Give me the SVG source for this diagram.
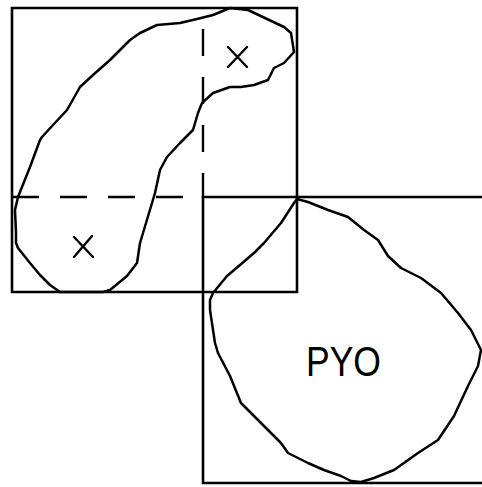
<svg xmlns="http://www.w3.org/2000/svg" width="482" height="487" viewBox="0 0 482 487">
<style>
.ln{fill:none;stroke:#000;stroke-width:2.6;stroke-linejoin:miter;stroke-linecap:square}
.dash{fill:none;stroke:#000;stroke-width:2.4;stroke-dasharray:27 21}
.bl{fill:none;stroke:#000;stroke-width:2.5;stroke-linejoin:round;stroke-linecap:round}
.x{fill:none;stroke:#000;stroke-width:2.4;stroke-linecap:round}
.t{font-family:"Liberation Sans",Arial,sans-serif;font-size:42px;fill:#000}
</style>
<rect width="482" height="487" fill="#fff"/>
<g id="square1">
<polyline class="ln" points="203,8 12,8 12,292 297,292 297,8 203,8"/>
</g>
<g id="square2">
<polyline class="ln" points="482,197 203,197 203,483 482,483"/>
</g>
<g id="dividers">
<line class="dash" x1="12" y1="197" x2="203" y2="197"/>
<line class="dash" x1="203" y1="29" x2="203" y2="197"/>
</g>
<g id="blob1">
<polyline class="bl" points="230,8 248,10 284,27 291,33 294,52 284,63 274,68 268,80 254,85 241,87 230,87 213,93 202,103 198,113 193,130 180,143 167,157 160,170 155,193 152,203 143,233 140,243 137,263 127,276 110,290 103,292 60,292 50,285 40,275 30,263 18,248 16,243 16,233 15,210 18,197 22,187 30,167 40,140 42,137 53,125 67,110 80,87 93,75 110,60 130,40 140,33 157,25 180,23 197,19 213,15 230,8"/>
</g>
<g id="blob2">
<polyline class="bl" points="297,199 308,202 328,210 348,217 364,230 378,240 388,256 401,268 421,278 441,293 458,313 471,330 481,350 478,366 468,386 454,416 438,440 418,453 394,470 374,478 361,482 351,481 341,476 324,470 308,463 288,453 281,443 268,430 241,403 230,376 218,353 215,343 210,310 210,300 213,293 227,276 240,265 254,253 264,243 281,223 294,203 297,199"/>
</g>
<g id="marks">
<path class="x" d="M228,47 L247,67 M247,47 L228,67"/>
<path class="x" d="M74,237 L93,257 M92,236 L74,257"/>
</g>
<g id="label">
<text class="t" x="306" y="376" textLength="75" lengthAdjust="spacingAndGlyphs">PYO</text>
</g>
</svg>
